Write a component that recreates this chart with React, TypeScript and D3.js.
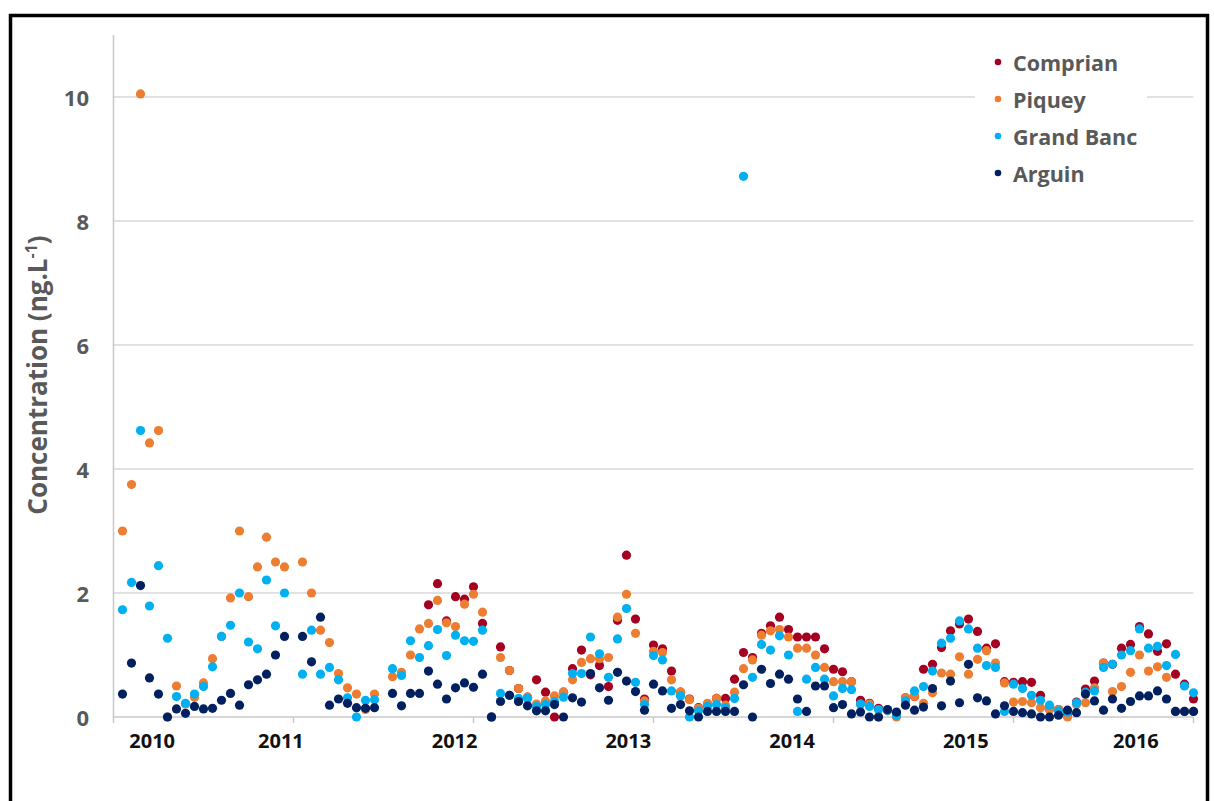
import React from "react";
import * as d3 from "d3";

// Sampling slots (regular sampling grid; slots 20 and 30 have no sample)
const slots: number[] = [
  1, 2, 3, 4, 5, 6, 7, 8, 9, 10, 11, 12, 13, 14, 15, 16, 17, 18, 19,
  21, 22, 23, 24, 25, 26, 27, 28, 29,
  31, 32, 33, 34, 35, 36, 37, 38, 39, 40,
  41, 42, 43, 44, 45, 46, 47, 48, 49, 50,
  51, 52, 53, 54, 55, 56, 57, 58, 59, 60,
  61, 62, 63, 64, 65, 66, 67, 68, 69, 70,
  71, 72, 73, 74, 75, 76, 77, 78, 79, 80,
  81, 82, 83, 84, 85, 86, 87, 88, 89, 90,
  91, 92, 93, 94, 95, 96, 97, 98, 99, 100,
  101, 102, 103, 104, 105, 106, 107, 108, 109, 110,
  111, 112, 113, 114, 115, 116, 117, 118, 119, 120,
];

const comprian: (number | null)[] = [
  null, null, null, null, null, null, null, null, null, null, null, null, null, null, null, null, null, null, null,
  null, null, null, null, null, null, null, null, null,
  null, null, null, null, 1.81, 2.15, 1.55, 1.94, 1.9, 2.1,
  1.51, 0, 1.13, 0.75, 0.46, 0.32, 0.6, 0.4, 0, 0.4,
  0.78, 1.08, 0.68, 0.83, 0.49, 1.56, 2.61, 1.58, 0.29, 1.16,
  1.1, 0.74, 0.4, 0.29, 0.15, 0.2, 0.3, 0.3, 0.61, 1.04,
  0.96, 1.35, 1.47, 1.61, 1.41, 1.29, 1.29, 1.29, 1.1, 0.77,
  0.73, 0.57, 0.27, 0.22, 0.14, 0.11, 0.05, 0.31, 0.33, 0.77,
  0.85, 1.12, 1.39, 1.5, 1.58, 1.38, 1.11, 1.18, 0.57, 0.56,
  0.57, 0.56, 0.35, 0.13, 0.12, 0.05, 0.24, 0.45, 0.58, 0.87,
  0.85, 1.11, 1.17, 1.46, 1.34, 1.06, 1.18, 0.69, 0.53, 0.29,
];

const piquey: (number | null)[] = [
  3.0, 3.75, 10.05, 4.42, 4.62, 0, 0.5, 0.21, 0.32, 0.55, 0.94, 1.3, 1.92, 3.0, 1.94, 2.42, 2.9, 2.5, 2.42,
  2.5, 2.0, 1.4, 1.2, 0.7, 0.47, 0.37, 0.12, 0.37,
  0.65, 0.72, 1.0, 1.42, 1.51, 1.88, 1.52, 1.46, 1.82, 1.98,
  1.69, 0, 0.96, 0.75, 0.46, 0.32, 0.21, 0.26, 0.34, 0.4,
  0.6, 0.88, 0.94, 0.94, 0.96, 1.61, 1.98, 1.35, 0.26, 1.06,
  1.04, 0.6, 0.4, 0.28, 0.14, 0.22, 0.3, 0.19, 0.4, 0.78,
  0.92, 1.32, 1.39, 1.41, 1.29, 1.11, 1.11, 1.0, 0.8, 0.57,
  0.57, 0.57, 0.21, 0.21, 0, 0.1, 0, 0.31, 0.33, 0.22,
  0.39, 0.71, 0.69, 0.97, 0.69, 0.93, 1.07, 0.87, 0.55, 0.24,
  0.25, 0.23, 0.15, 0.12, 0.12, 0, 0.2, 0.23, 0.47, 0.87,
  0.41, 0.49, 0.72, 1.0, 0.74, 0.81, 0.64, 0.09, 0.09, 0.09,
];

const grandBanc: (number | null)[] = [
  1.73, 2.17, 4.62, 1.79, 2.44, 1.27, 0.33, 0.22, 0.37, 0.49, 0.81, 1.3, 1.48, 2.0, 1.21, 1.1, 2.21, 1.47, 2.0,
  0.69, 1.4, 0.69, 0.8, 0.6, 0.31, 0, 0.27, 0.28,
  0.78, 0.67, 1.23, 0.96, 1.15, 1.41, 0.99, 1.32, 1.23, 1.22,
  1.4, 0, 0.38, 0.35, 0.3, 0.3, 0.17, 0.2, 0.25, 0.32,
  0.7, 0.7, 1.29, 1.02, 0.64, 1.26, 1.75, 0.56, 0.2, 0.99,
  0.92, 0.42, 0.34, 0, 0.1, 0.17, 0.2, 0.15, 0.3, 8.72,
  0.64, 1.17, 1.08, 1.31, 1.0, 0.09, 0.61, 0.8, 0.61, 0.34,
  0.46, 0.44, 0.21, 0.17, 0.12, 0.11, 0.02, 0.26, 0.42, 0.49,
  0.74, 1.19, 1.27, 1.55, 1.42, 1.11, 0.83, 0.8, 0.09, 0.53,
  0.46, 0.35, 0.27, 0.19, 0.1, 0.08, 0.23, 0.4, 0.42, 0.8,
  0.85, 1.0, 1.07, 1.42, 1.11, 1.14, 0.83, 1.01, 0.5, 0.39,
];

const arguin: (number | null)[] = [
  0.37, 0.87, 2.12, 0.63, 0.37, 0, 0.13, 0.06, 0.17, 0.13, 0.14, 0.27, 0.38, 0.19, 0.52, 0.6, 0.69, 1.0, 1.3,
  1.3, 0.89, 1.61, 0.19, 0.29, 0.22, 0.15, 0.14, 0.15,
  0.38, 0.18, 0.38, 0.38, 0.74, 0.53, 0.29, 0.47, 0.55, 0.48,
  0.69, 0, 0.25, 0.35, 0.25, 0.18, 0.1, 0.1, 0.2, 0,
  0.31, 0.24, 0.7, 0.47, 0.27, 0.72, 0.58, 0.41, 0.11, 0.53,
  0.42, 0.14, 0.2, 0.1, 0, 0.09, 0.09, 0.09, 0.09, 0.52,
  0, 0.77, 0.54, 0.69, 0.61, 0.29, 0.09, 0.5, 0.5, 0.15,
  0.2, 0.05, 0.08, 0, 0, 0.12, 0.08, 0.19, 0.11, 0.16,
  0.46, 0.18, 0.58, 0.23, 0.85, 0.31, 0.26, 0.05, 0.18, 0.09,
  0.07, 0.05, 0, 0, 0.03, 0.11, 0.07, 0.37, 0.26, 0.11,
  0.29, 0.14, 0.25, 0.34, 0.34, 0.42, 0.29, 0.09, 0.09, 0.09,
];

const seriesNames = ["Comprian", "Piquey", "Grand Banc", "Arguin"];
const seriesColors = ["#A50021", "#ED7D31", "#00B0F0", "#002060"];
const seriesValues = [comprian, piquey, grandBanc, arguin];

const yTicks = [0, 2, 4, 6, 8, 10];
const yearLabels = ["2010", "2011", "2012", "2013", "2014", "2015", "2016"];
const yearLabelSlots = [4.3, 18.6, 37.9, 57.2, 75.4, 94.7, 113.6];
const xTickSlots = [0, 20, 40, 60, 80, 100, 120];

const W = 1214;
const H = 801;
const plot = { left: 113.5, right: 1193.5, top: 35, bottom: 717 };
const FONT = "'Open Sans', Lato, sans-serif";

export default function App() {
  const x = d3.scaleLinear().domain([0, 120]).range([plot.left, plot.right]);
  const y = d3.scaleLinear().domain([0, 11]).range([plot.bottom, plot.top]);

  const series = seriesNames.map((name, i) => ({
    name,
    color: seriesColors[i],
    points: slots
      .map((s, j) => ({ s, v: seriesValues[i][j] }))
      .filter((p) => p.v !== null && p.v !== undefined) as { s: number; v: number }[],
  }));

  const legendX = 998;
  const legendY0 = 62;
  const legendStep = 37;

  return (
    <svg
      width={W}
      height={H}
      style={{ position: "absolute", left: 0, top: 0, background: "#fff" }}
      fontFamily={FONT}
    >
      <rect x={0} y={0} width={W} height={H} fill="#fff" />
      {/* gridlines */}
      {yTicks
        .filter((t) => t > 0)
        .map((t) => (
          <line
            key={"g" + t}
            x1={plot.left}
            x2={plot.right}
            y1={y(t)}
            y2={y(t)}
            stroke="#d9d9d9"
            strokeWidth={1.5}
          />
        ))}
      {/* axes */}
      <line x1={plot.left} x2={plot.left} y1={plot.top} y2={plot.bottom} stroke="#c8c8c8" strokeWidth={1.5} />
      <line x1={plot.left} x2={plot.right} y1={plot.bottom} y2={plot.bottom} stroke="#c8c8c8" strokeWidth={1.5} />
      {xTickSlots.map((s) => (
        <line key={"t" + s} x1={x(s)} x2={x(s)} y1={plot.bottom} y2={plot.bottom + 6} stroke="#c8c8c8" strokeWidth={1.5} />
      ))}
      {/* y tick labels */}
      {yTicks.map((t) => (
        <text
          key={"yl" + t}
          x={89}
          y={y(t)}
          textAnchor="end"
          dominantBaseline="central"
          fontSize={22}
          fontWeight="bold"
          fill="#595959"
        >
          {t}
        </text>
      ))}
      {/* x labels */}
      {yearLabels.map((lab, i) => (
        <text
          key={lab}
          x={x(yearLabelSlots[i])}
          y={748}
          textAnchor="middle"
          fontSize={20}
          fontWeight="bold"
          fill="#111"
        >
          {lab}
        </text>
      ))}
      {/* y axis title */}
      <text
        transform="translate(47,375) rotate(-90)"
        textAnchor="middle"
        fontSize={26}
        fontWeight="bold"
        fill="#595959"
      >
        Concentration (ng.L
        <tspan fontSize={16} dy={-10}>
          -1
        </tspan>
        <tspan dy={10}>)</tspan>
      </text>
      {/* points */}
      {series.map((sr) => (
        <g key={sr.name}>
          {sr.points.map((p, j) => (
            <circle key={j} cx={x(p.s)} cy={y(p.v)} r={4.6} fill={sr.color} />
          ))}
        </g>
      ))}
      {/* legend */}
      <rect x={975} y={44} width={172} height={150} fill="#fff" />
      {series.map((sr, i) => (
        <g key={"lg" + sr.name}>
          <circle cx={legendX} cy={legendY0 + i * legendStep} r={3.3} fill={sr.color} />
          <text
            x={legendX + 15}
            y={legendY0 + i * legendStep}
            dominantBaseline="central"
            fontSize={21.5}
            fontWeight="bold"
            fill="#595959"
          >
            {sr.name}
          </text>
        </g>
      ))}
      {/* outer frame */}
      <rect x={10.5} y={15.5} width={1197} height={800} fill="none" stroke="#000" strokeWidth={3.5} />
    </svg>
  );
}
